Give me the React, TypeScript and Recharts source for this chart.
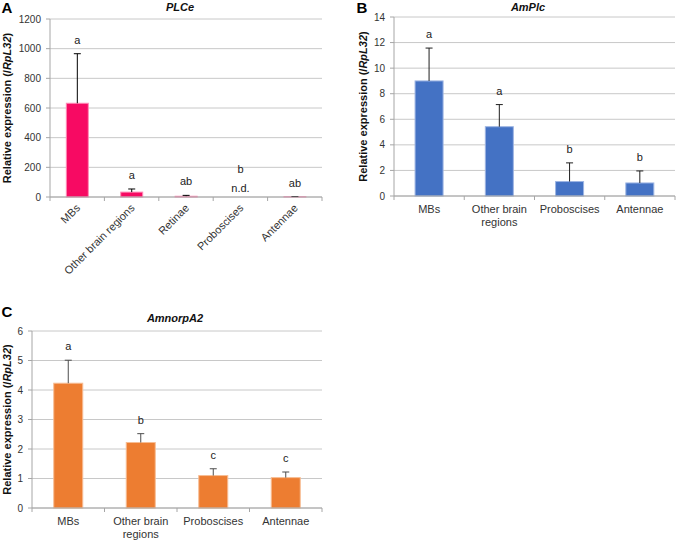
import React from "react";
import { BarChart, Bar, XAxis, YAxis, CartesianGrid } from "recharts";

const FONT = '"Liberation Sans", Arial, Helvetica, sans-serif';
const AXIS = "#a6a6a6";
const GRID = "#c8c8c8";

// Panel A - PLCe (Proboscises not detected)
const plceCategories = ["MBs", "Other brain regions", "Retinae", "Proboscises", "Antennae"];
const plceMeans = [632, 33, 5, 0, 1.5];
const plceErrors = [334, 21, 6, 0, 1.5];
const plceLetters = ["a", "a", "ab", "b", "ab"];
const plceTicks = [0, 200, 400, 600, 800, 1000, 1200];

// Panels B and C share the tissue list
const tissueCategories = ["MBs", "Other brain regions", "Proboscises", "Antennae"];

// Panel B - AmPlc
const amplcMeans = [9.0, 5.42, 1.13, 1.02];
const amplcErrors = [2.57, 1.73, 1.46, 0.94];
const amplcLetters = ["a", "a", "b", "b"];
const amplcTicks = [0, 2, 4, 6, 8, 10, 12, 14];

// Panel C - AmnorpA2
const amnorpMeans = [4.23, 2.22, 1.1, 1.03];
const amnorpErrors = [0.78, 0.3, 0.23, 0.19];
const amnorpLetters = ["a", "b", "c", "c"];
const amnorpTicks = [0, 1, 2, 3, 4, 5, 6];

type Row = { name: string; mean: number; err: number; letter: string };

const makeRows = (names: string[], means: number[], errs: number[], letters: string[]): Row[] =>
  names.map((name, i) => ({ name, mean: means[i], err: errs[i], letter: letters[i] }));

// greedy word wrap measured with a canvas, like Excel's category labels
let ctx: CanvasRenderingContext2D | null = null;
const wrapLabel = (label: string, maxWidth: number): string[] => {
  if (!ctx) {
    ctx = document.createElement("canvas").getContext("2d");
  }
  const measure = (s: string) => {
    if (!ctx) return s.length * 6;
    ctx.font = `11px ${FONT}`;
    return ctx.measureText(s).width;
  };
  const lines: string[] = [];
  let line = "";
  label.split(" ").forEach((word) => {
    const next = line ? `${line} ${word}` : word;
    if (line && measure(next) > maxWidth) {
      lines.push(line);
      line = word;
    } else {
      line = next;
    }
  });
  if (line) lines.push(line);
  return lines;
};

type PanelProps = {
  rows: Row[];
  width: number;
  height: number;
  margin: { top: number; right: number; left: number; bottom: number };
  yAxisWidth: number;
  xAxisHeight: number;
  ticks: number[];
  color: string;
  edge: string;
  errColor: string;
  rotated?: boolean;
  labelX: number;
};

const Panel: React.FC<PanelProps> = ({
  rows, width, height, margin, yAxisWidth, xAxisHeight, ticks, color, edge, errColor, rotated, labelX,
}) => {
  const bandWidth = (width - margin.left - margin.right - yAxisWidth) / rows.length;
  const max = ticks[ticks.length - 1];

  // x tick: Excel-style marks between categories plus the category name
  const renderTick = (props: any) => {
    const { x, y, payload, index } = props;
    const left = x - bandWidth / 2;
    const lines = rotated ? [] : wrapLabel(String(payload.value), bandWidth - 4);
    return (
      <g>
        <line x1={left} x2={left} y1={y} y2={y + 4} stroke={AXIS} />
        {index === rows.length - 1 && (
          <line x1={left + bandWidth} x2={left + bandWidth} y1={y} y2={y + 4} stroke={AXIS} />
        )}
        {rotated ? (
          <text
            x={x + 1}
            y={y + 9}
            dy="0.35em"
            transform={`rotate(-45 ${x + 1} ${y + 9})`}
            textAnchor="end"
            fontSize={11}
            fill="#333"
            fontFamily={FONT}
          >
            {payload.value}
          </text>
        ) : (
          <text x={x} y={y + 17} textAnchor="middle" fontSize={11} fill="#333" fontFamily={FONT}>
            {lines.map((ln, i) => (
              <tspan key={i} x={x} dy={i === 0 ? 0 : 13}>
                {ln}
              </tspan>
            ))}
          </text>
        )}
      </g>
    );
  };

  // bar + upper error bar + significance letter
  const renderBar = (props: any) => {
    const { x, y, width: w, height: h, payload } = props;
    const cx = x + w / 2;
    if (payload.mean === 0) {
      return (
        <g>
          <text x={cx} y={y - 5} textAnchor="middle" fontSize={11} fill="#222" fontFamily={FONT}>
            n.d.
          </text>
          <text x={cx} y={y - 24} textAnchor="middle" fontSize={11} fill="#222" fontFamily={FONT}>
            {payload.letter}
          </text>
        </g>
      );
    }
    const perUnit = h / payload.mean;
    const top = y - payload.err * perUnit;
    return (
      <g>
        <rect x={x} y={y} width={w} height={h} fill={color} stroke={edge} strokeWidth={1} />
        <line x1={cx} x2={cx} y1={y} y2={top} stroke={errColor} />
        <line x1={cx - 3.5} x2={cx + 3.5} y1={top} y2={top} stroke={errColor} />
        <text x={cx} y={top - 10} textAnchor="middle" fontSize={11} fill="#222" fontFamily={FONT}>
          {payload.letter}
        </text>
      </g>
    );
  };

  const renderYLabel = (props: any) => {
    const vb = props.viewBox;
    const cx = vb.x + labelX;
    const cy = vb.y + vb.height / 2;
    return (
      <text
        x={cx}
        y={cy}
        transform={`rotate(-90 ${cx} ${cy})`}
        textAnchor="middle"
        dominantBaseline="central"
        fontSize={11}
        fontWeight="bold"
        fill="#111"
        fontFamily={FONT}
      >
        Relative expression (/<tspan fontStyle="italic">RpL32</tspan>)
      </text>
    );
  };

  return (
    <BarChart width={width} height={height} data={rows} margin={margin} barCategoryGap="30%">
      <CartesianGrid vertical={false} stroke={GRID} />
      <XAxis
        dataKey="name"
        interval={0}
        height={xAxisHeight}
        tickSize={0}
        tickMargin={0}
        tickLine={false}
        axisLine={{ stroke: AXIS }}
        tick={renderTick}
      />
      <YAxis
        width={yAxisWidth}
        domain={[0, max]}
        ticks={ticks}
        interval={0}
        axisLine={{ stroke: AXIS }}
        tickLine={{ stroke: AXIS }}
        tickSize={4}
        tickMargin={5}
        tick={{ fontSize: 10, fill: "#333", fontFamily: FONT }}
        label={renderYLabel}
      />
      <Bar dataKey="mean" shape={renderBar} isAnimationActive={false} />
    </BarChart>
  );
};

const App: React.FC = () => {
  const plceRows = makeRows(plceCategories, plceMeans, plceErrors, plceLetters);
  const amplcRows = makeRows(tissueCategories, amplcMeans, amplcErrors, amplcLetters);
  const amnorpRows = makeRows(tissueCategories, amnorpMeans, amnorpErrors, amnorpLetters);

  return (
    <div
      style={{
        position: "absolute",
        left: 0,
        top: 0,
        width: 677,
        height: 541,
        background: "#fff",
        fontFamily: FONT,
        overflow: "hidden",
      }}
    >
      <div style={{ position: "absolute", left: 0, top: 0 }}>
        <Panel
          rows={plceRows}
          width={340}
          height={290}
          margin={{ top: 19, right: 18, left: 0, bottom: 0 }}
          yAxisWidth={50}
          xAxisHeight={93}
          ticks={plceTicks}
          color="#f70a63"
          edge="#ff8cb6"
          errColor="#000"
          rotated
          labelX={7}
        />
      </div>
      <div style={{ position: "absolute", left: 340, top: 0 }}>
        <Panel
          rows={amplcRows}
          width={337}
          height={270}
          margin={{ top: 17, right: 2, left: 0, bottom: 0 }}
          yAxisWidth={54}
          xAxisHeight={74}
          ticks={amplcTicks}
          color="#4472c4"
          edge="#9db5e3"
          errColor="#1f1f1f"
          labelX={22.7}
        />
      </div>
      <div style={{ position: "absolute", left: 0, top: 270 }}>
        <Panel
          rows={amnorpRows}
          width={340}
          height={271}
          margin={{ top: 61, right: 18, left: 0, bottom: 0 }}
          yAxisWidth={32}
          xAxisHeight={33}
          ticks={amnorpTicks}
          color="#ed7d31"
          edge="#f7bd94"
          errColor="#4d4d4d"
          labelX={7}
        />
      </div>
      <svg
        width={677}
        height={541}
        style={{ position: "absolute", left: 0, top: 0, pointerEvents: "none" }}
        fontFamily={FONT}
      >
        <g fontWeight="bold" fontSize={15} fill="#000">
          <text x={1.5} y={12.7}>A</text>
          <text x={356.5} y={12.7}>B</text>
          <text x={1.5} y={317}>C</text>
        </g>
        <g fontWeight="bold" fontStyle="italic" fontSize={11} fill="#111" textAnchor="middle">
          <text x={180} y={11}>PLCe</text>
          <text x={528} y={11}>AmPlc</text>
          <text x={175} y={321.5}>AmnorpA2</text>
        </g>
      </svg>
    </div>
  );
};

export default App;
